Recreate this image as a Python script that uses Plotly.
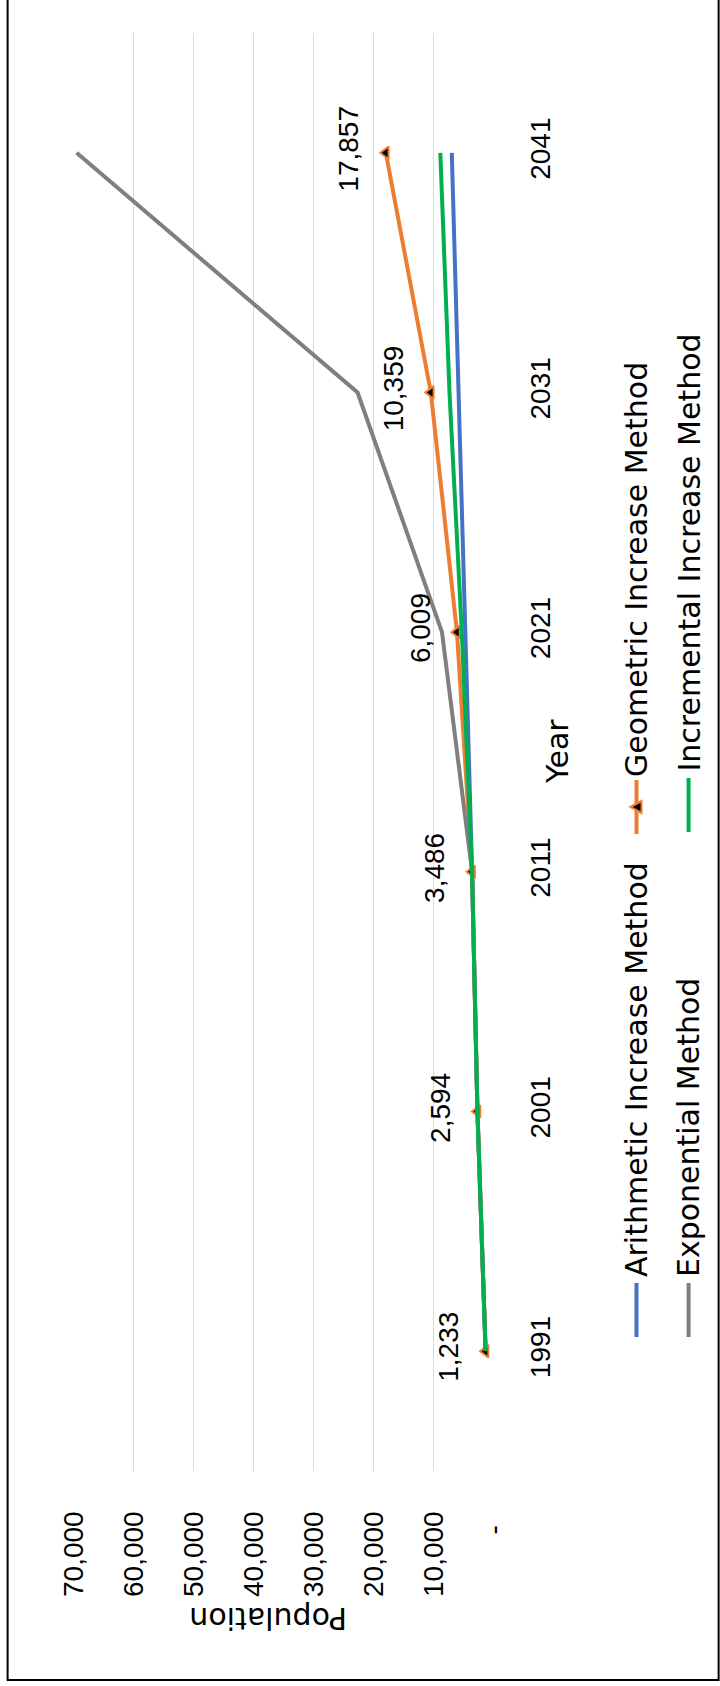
import plotly.graph_objects as go

years = ["1991", "2001", "2011", "2021", "2031", "2041"]
arithmetic = [1233, 2594, 3486, 4613, 5739, 6866]
geometric = [1233, 2594, 3486, 6009, 10359, 17857]
exponential = [1233, 2594, 3486, 8500, 22570, 69400]
incremental = [1233, 2594, 3486, 5200, 7250, 8780]
pop_ticks = [0, 10000, 20000, 30000, 40000, 50000, 60000, 70000]
pop_ticktext = ["-"] + [f"{v:,}" for v in pop_ticks[1:]]

series_names = ["Arithmetic Increase Method", "Geometric Increase Method",
                "Exponential Method", "Incremental Increase Method"]
colors = ["#4472C4", "#ED7D31", "#7F7F7F", "#00B050"]

W, H = 720, 1686
L, R, T, B = 73.3, 227.3, 33, 215
PW, PH = W - L - R, H - T - B


def fx(p):
    return (p - L) / PW


def fy(p):
    return (H - B - p) / PH


TITLE_FONT = dict(family="DejaVu Sans", size=30, color="black")
TICK_FONT = dict(family="Liberation Sans", size=28, color="black")

fig = go.Figure()
fig.add_trace(go.Scatter(x=arithmetic, y=years, mode="lines", name=series_names[0],
                         line=dict(color=colors[0], width=4)))
fig.add_trace(go.Scatter(x=geometric, y=years, mode="lines+markers", name=series_names[1],
                         line=dict(color=colors[1], width=4),
                         marker=dict(symbol="triangle-left", size=11, color="black",
                                     line=dict(color=colors[1], width=2))))
fig.add_trace(go.Scatter(x=exponential, y=years, mode="lines", name=series_names[2],
                         line=dict(color=colors[2], width=4)))
fig.add_trace(go.Scatter(x=incremental, y=years, mode="lines", name=series_names[3],
                         line=dict(color=colors[3], width=4)))

annotations = []
# data labels for the geometric series (category index positions on the year axis)
for i, v in enumerate(geometric):
    annotations.append(dict(x=v, y=i, xref="x", yref="y", text=f"{v:,}", showarrow=False,
                            textangle=-90, xshift=-37, yshift=4,
                            font=dict(family="Liberation Sans", size=28, color="black")))
# population tick labels (rotated, hanging below the plot)
for v, t in zip(pop_ticks, pop_ticktext):
    annotations.append(dict(x=v, y=fy(1525 if v == 0 else 1510), xref="x", yref="paper",
                            text=t, showarrow=False, textangle=-90,
                            xanchor="center", yanchor="top", borderpad=0, font=TICK_FONT))
# axis titles
annotations.append(dict(x=fx(576), y=fy(751), xref="paper", yref="paper", text="Year",
                        showarrow=False, textangle=-90, font=TITLE_FONT))
annotations.append(dict(x=fx(268), y=fy(1637), xref="paper", yref="paper", text="Population",
                        showarrow=False, textangle=180, font=TITLE_FONT, borderpad=0))

# legend (rotated)
leg = [
    (series_names[0], 636, 1278, 1283, 1337, colors[0]),
    (series_names[1], 636, 778, 780, 834, colors[1]),
    (series_names[2], 688, 1278, 1283, 1337, colors[2]),
    (series_names[3], 688, 773, 778, 832, colors[3]),
]
shapes = []
for name, cx, ybot, m0, m1, col in leg:
    annotations.append(dict(x=fx(cx), y=fy(ybot), xref="paper", yref="paper", text=name,
                            showarrow=False, textangle=-90, xanchor="center", yanchor="bottom",
                            font=TITLE_FONT, borderpad=0))
    shapes.append(dict(type="line", xref="paper", yref="paper", x0=fx(cx), x1=fx(cx),
                       y0=fy(m0), y1=fy(m1), line=dict(color=col, width=4)))
# triangle marker in the geometric legend entry
tcx, tcy = 636, 807
path = (f"M {fx(tcx-6)},{fy(tcy)} L {fx(tcx+5)},{fy(tcy-6)} "
        f"L {fx(tcx+5)},{fy(tcy+6)} Z")
shapes.append(dict(type="path", xref="paper", yref="paper", path=path,
                   fillcolor="black", line=dict(color=colors[1], width=2)))
# chart border
shapes.append(dict(type="rect", xref="paper", yref="paper", x0=fx(8), x1=fx(718),
                   y0=fy(1680), y1=fy(-10), line=dict(color="black", width=2)))

fig.update_layout(
    width=W, height=H,
    margin=dict(l=L, r=R, t=T, b=B, pad=0),
    paper_bgcolor="white", plot_bgcolor="white",
    showlegend=False,
    annotations=annotations,
    shapes=shapes,
    xaxis=dict(range=[70000, 0], tickvals=pop_ticks, showticklabels=False,
               showgrid=True, gridcolor="#D9D9D9", gridwidth=1,
               zeroline=False, showline=False, ticks=""),
    yaxis=dict(type="category", categoryorder="array", categoryarray=years,
               range=[-0.5, 5.5], side="right", tickangle=-90, showgrid=False,
               zeroline=False, showline=False, ticks="outside", ticklen=22,
               tickcolor="rgba(0,0,0,0)", tickfont=TICK_FONT),
)

fig.write_html("out.html")
